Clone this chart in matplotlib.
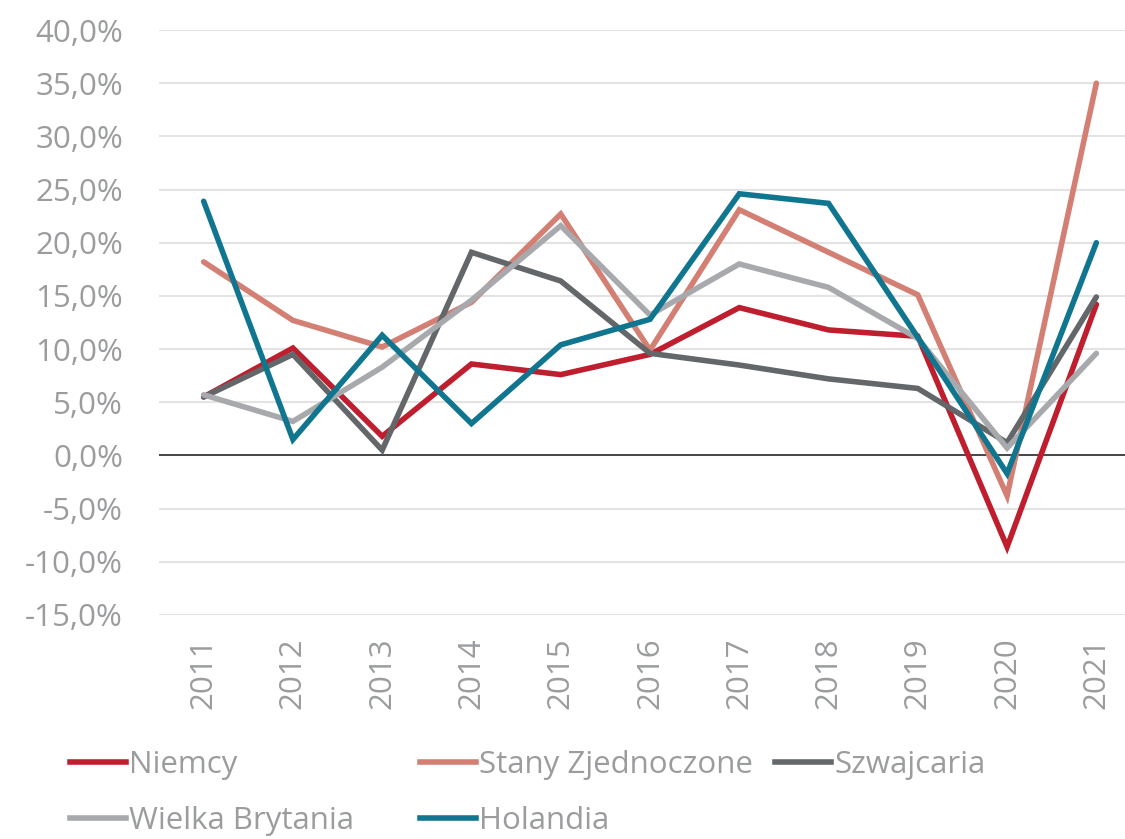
import matplotlib
matplotlib.use("Agg")
import matplotlib.pyplot as plt
from matplotlib.lines import Line2D
from matplotlib.ticker import FuncFormatter

plt.rcParams['font.family'] = ['Open Sans', 'DejaVu Sans']

# ── Data ──────────────────────────────────────────────────────────────────────
years = ["2011", "2012", "2013", "2014", "2015", "2016",
         "2017", "2018", "2019", "2020", "2021"]

niemcy   = [5.5, 10.1, 1.8, 8.6, 7.6, 9.5, 13.9, 11.8, 11.2, -8.6, 14.2]
stany    = [18.2, 12.7, 10.2, 14.4, 22.7, 9.9, 23.1, 19.1, 15.1, -3.8, 35.0]
szwajc   = [5.5, 9.5, 0.5, 19.1, 16.4, 9.6, 8.5, 7.2, 6.3, 1.2, 14.9]
wbryt    = [5.7, 3.2, 8.3, 14.6, 21.6, 13.2, 18.0, 15.8, 11.0, 0.7, 9.6]
holandia = [23.9, 1.5, 11.3, 3.0, 10.4, 12.8, 24.6, 23.7, 11.1, -1.7, 20.0]

series = [
    ("Niemcy",            niemcy,   "#BE1E2D"),
    ("Stany Zjednoczone", stany,    "#D47F73"),
    ("Szwajcaria",        szwajc,   "#63676A"),
    ("Wielka Brytania",   wbryt,    "#A7A9AC"),
    ("Holandia",          holandia, "#10758F"),
]

TEXT = "#9A9C9E"
FS = 22.5
LW = 4.0

# ── Figure ────────────────────────────────────────────────────────────────────
fig = plt.figure(figsize=(11.25, 8.39), dpi=100)
ax = fig.add_axes([159 / 1125, (839 - 615) / 839, 982 / 1125, 585 / 839])

x = list(range(len(years)))
for name, vals, col in series:
    ax.plot(x, vals, color=col, linewidth=LW, solid_joinstyle="miter",
            solid_capstyle="round", zorder=3)

ax.set_xlim(-0.5, len(years) - 0.5)
ax.set_ylim(-15, 40)
ax.set_yticks(range(-15, 41, 5))
ax.yaxis.set_major_formatter(FuncFormatter(lambda v, p: f"{v:.1f}%".replace(".", ",")))
ax.set_xticks(x)
ax.set_xticklabels(years, rotation=90)

ax.grid(axis="y", color="#E3E3E3", linewidth=1.5, zorder=0)
ax.axhline(0, color="#3A3A3A", linewidth=1.3, zorder=2)
for sp in ax.spines.values():
    sp.set_visible(False)
ax.tick_params(axis="both", length=0, labelsize=FS, colors=TEXT)
ax.tick_params(axis="y", pad=26)
ax.tick_params(axis="x", pad=16)

# ── Legend (Excel-like fixed columns) ────────────────────────────────────────
cols = [(70, [0, 3]), (420, [1, 4]), (775, [2])]
for xpx, idxs in cols:
    handles = [Line2D([], [], color=series[i][2], linewidth=LW) for i in idxs]
    labels = [series[i][0] for i in idxs]
    leg = fig.legend(handles, labels, loc="upper left",
                     bbox_to_anchor=(xpx / 1125, (839 - 750) / 839),
                     frameon=False, fontsize=FS, handlelength=1.8,
                     handletextpad=0.1, labelspacing=0.82, borderaxespad=0,
                     borderpad=0)
    for t in leg.get_texts():
        t.set_color(TEXT)

fig.savefig("out.png", dpi=100)
